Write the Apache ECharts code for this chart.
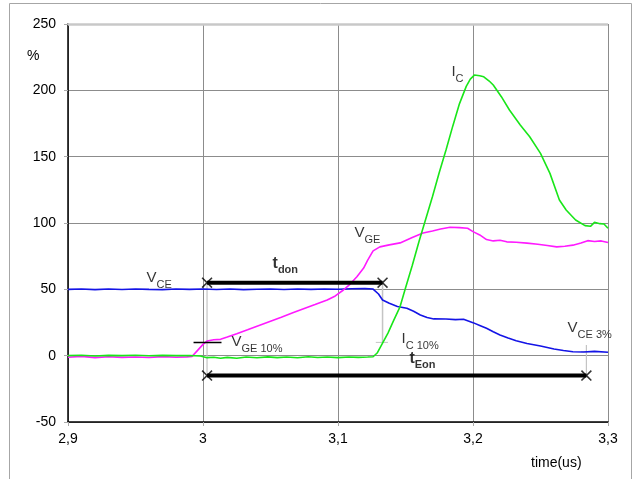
<!DOCTYPE html>
<html>
<head>
<meta charset="utf-8">
<script src="https://cdn.jsdelivr.net/npm/echarts@6/dist/echarts.min.js"></script>
<style>
  html, body { margin: 0; padding: 0; background: #fff; }
  #chart { width: 635px; height: 479px; }
</style>
</head>
<body>
<div id="chart"></div>
<script>
// Turn-on switching waveforms, all traces in percent of nominal, time in microseconds

// Collector-emitter voltage V_CE
const vceTime = [2.900, 2.910, 2.920, 2.930, 2.940, 2.950, 2.960, 2.970, 2.980, 2.990,
  3.000, 3.010, 3.020, 3.030, 3.040, 3.050, 3.060, 3.070, 3.080, 3.090, 3.100, 3.110,
  3.120, 3.126, 3.130, 3.133, 3.138, 3.144, 3.151, 3.156, 3.161, 3.166, 3.171, 3.180,
  3.187, 3.193, 3.200, 3.205, 3.210, 3.215, 3.220, 3.226, 3.232, 3.240, 3.250, 3.260,
  3.267, 3.274, 3.282, 3.290, 3.300];
const vceValue = [50.0, 50.3, 49.8, 50.2, 49.9, 50.3, 50.0, 49.8, 50.2, 50.0,
  50.3, 49.9, 50.2, 49.8, 50.1, 50.3, 49.9, 50.2, 50.0, 50.3, 50.1, 50.4,
  50.5, 50.2, 46.5, 42.0, 39.5, 37.0, 35.7, 33.5, 30.7, 28.8, 27.7, 27.6,
  27.2, 27.4, 24.9, 22.8, 20.6, 18.0, 15.6, 13.3, 11.3, 9.2, 7.3, 5.0,
  3.9, 3.0, 2.8, 3.2, 2.6];

// Gate-emitter voltage V_GE
const vgeTime = [2.900, 2.910, 2.920, 2.930, 2.940, 2.950, 2.960, 2.970, 2.980, 2.988,
  2.992, 2.996, 3.000, 3.003, 3.008, 3.013, 3.018, 3.025, 3.033, 3.042, 3.050, 3.058,
  3.067, 3.075, 3.083, 3.092, 3.098, 3.104, 3.109, 3.114, 3.119, 3.122, 3.126, 3.131,
  3.138, 3.146, 3.155, 3.163, 3.170, 3.176, 3.183, 3.190, 3.196, 3.200, 3.205, 3.210,
  3.215, 3.220, 3.225, 3.232, 3.240, 3.248, 3.255, 3.262, 3.268, 3.274, 3.280, 3.285,
  3.290, 3.295, 3.300];
const vgeValue = [-1.2, -0.5, -1.5, -0.8, -1.3, -1.0, -1.4, -0.7, -1.2, -0.9,
  -0.5, 4.0, 8.5, 11.0, 12.0, 12.3, 14.0, 16.5, 19.5, 23.0, 26.0, 29.0,
  32.5, 35.5, 38.5, 42.0, 45.0, 49.5, 54.0, 59.5, 66.0, 72.0, 79.0, 82.0,
  83.5, 85.0, 89.0, 92.5, 94.0, 95.5, 96.8, 96.5, 96.0, 93.5, 91.0, 87.5,
  86.5, 87.0, 85.8, 85.5, 84.8, 84.0, 83.0, 82.0, 82.5, 83.3, 85.0, 86.7,
  86.0, 86.5, 85.3];

// Collector current I_C
const icTime = [2.900, 2.910, 2.920, 2.930, 2.940, 2.950, 2.960, 2.970, 2.980, 2.990,
  2.998, 3.003, 3.008, 3.013, 3.018, 3.025, 3.032, 3.040, 3.048, 3.055, 3.062, 3.070,
  3.078, 3.085, 3.092, 3.100, 3.108, 3.115, 3.122, 3.126, 3.129, 3.133, 3.137, 3.141,
  3.146, 3.150, 3.155, 3.160, 3.165, 3.170, 3.175, 3.180, 3.185, 3.190, 3.195, 3.198,
  3.201, 3.205, 3.208, 3.212, 3.215, 3.221, 3.227, 3.235, 3.242, 3.250, 3.257, 3.264,
  3.269, 3.276, 3.283, 3.287, 3.290, 3.294, 3.297, 3.300];
const icValue = [0.0, 0.3, -0.2, 0.2, 0.0, 0.3, -0.1, 0.2, 0.0, 0.1,
  -0.3, -1.5, -1.2, -2.0, -1.3, -2.0, -1.0, -1.6, -0.9, -1.5, -1.0, -1.6,
  -0.8, -1.4, -1.0, -1.5, -1.0, -1.3, -1.0, -0.8, 2.0, 9.5, 17.0, 26.0,
  37.0, 51.0, 68.0, 86.0, 103.0, 120.0, 138.0, 155.0, 173.0, 190.0, 203.0, 208.5,
  211.5, 211.0, 210.2, 207.0, 204.0, 195.2, 185.2, 173.9, 165.0, 152.5, 137.4, 117.3,
  109.8, 102.3, 98.0, 97.5, 100.5, 99.5, 99.2, 96.0];

// Time intervals: turn-on delay t_don and turn-on energy window t_Eon
const tdonSpan = [3.003, 3.133];
const tdonLevel = 55;
const tEonSpan = [3.003, 3.284];
const tEonLevel = -15;

// Reference levels picked off the traces
const vge10Span = [2.993, 3.0137];
const vge10Level = 10;
const ic10Level = 10;
const vce3Level = 3;

// Trace names and annotation texts (main part, subscript, anchor time, anchor value, bold)
const noteMain = ['V', 'V', 'I', 'V', 'I', 'V', 't', 't'];
const noteSub = ['CE', 'GE', 'C', 'GE 10%', 'C 10%', 'CE 3%', 'don', 'Eon'];
const noteTime = [2.9585, 3.1126, 3.1844, 3.0215, 3.1474, 3.2704, 3.0519, 3.1533];
const noteValue = [56.4, 90.3, 211.5, 8.0, 10.3, 18.7, 67.3, -4.3];
const noteBold = [false, false, false, false, false, false, true, true];

// Axes
const xMin = 2.9, xMax = 3.3, xStep = 0.1;
const yMin = -50, yMax = 250, yStep = 50;

const FONT = '"Liberation Sans", Arial, sans-serif';
const chart = echarts.init(document.getElementById('chart'), null, { renderer: 'canvas' });

const zip = (a, b) => a.map((t, i) => [t, b[i]]);

function trace(name, color, t, v) {
  return {
    name, type: 'line', data: zip(t, v), showSymbol: false, symbol: 'none',
    lineStyle: { color, width: 1.6 }, silent: true, animation: false, z: 3
  };
}

function segment(points, color, width, z) {
  return {
    type: 'line', data: points, showSymbol: false, symbol: 'none',
    lineStyle: { color, width }, silent: true, animation: false, z
  };
}

const crossPath = 'path://M0,1L1,0L5,4L9,0L10,1L6,5L10,9L9,10L5,6L1,10L0,9L4,5Z';

const notes = noteMain.map((m, i) => ({
  value: [noteTime[i], noteValue[i]],
  label: {
    formatter: noteBold[i] ? '{bb|' + m + '}{bs|' + noteSub[i] + '}' : '{b|' + m + '}{s|' + noteSub[i] + '}'
  }
}));

const option = {
  animation: false,
  backgroundColor: '#ffffff',
  grid: { left: 68, right: 27, top: 24, bottom: 57, containLabel: false },
  title: [
    { text: '%', left: 22, top: 44, textStyle: { fontFamily: FONT, fontSize: 14, fontWeight: 'normal', color: '#000' } },
    { text: 'time(us)', left: 526, top: 451, textStyle: { fontFamily: FONT, fontSize: 14, fontWeight: 'normal', color: '#000' } }
  ],
  graphic: [
    { type: 'rect', shape: { x: 9.5, y: 3.5, width: 622, height: 520 },
      style: { fill: 'none', stroke: '#a6a6a6', lineWidth: 1 }, silent: true, z: -10 }
  ],
  xAxis: {
    type: 'value', min: xMin, max: xMax, interval: xStep,
    axisLine: { onZero: false, lineStyle: { color: '#000', width: 1.5 } },
    axisTick: { show: true, length: 4, lineStyle: { color: '#aaa' } },
    axisLabel: {
      margin: 10, color: '#000', fontFamily: FONT, fontSize: 14,
      formatter: v => String(Math.round(v * 10) / 10).replace('.', ',')
    },
    splitLine: { show: true, lineStyle: { color: '#8c8c8c', width: 1 } }
  },
  yAxis: {
    type: 'value', min: yMin, max: yMax, interval: yStep,
    axisLine: { show: true, lineStyle: { color: '#000', width: 1.5 } },
    axisTick: { show: true, length: 4, lineStyle: { color: '#aaa' } },
    axisLabel: { margin: 12, color: '#000', fontFamily: FONT, fontSize: 14 },
    splitLine: { show: true, lineStyle: { color: '#8c8c8c', width: 1 } }
  },
  series: [
    // frame line along the top of the plot
    {
      type: 'line', data: [], silent: true,
      markLine: {
        silent: true, symbol: 'none', label: { show: false },
        lineStyle: { color: '#c8c8c8', width: 2.5, type: 'solid' },
        data: [{ yAxis: yMax }]
      }
    },
    trace('VCE', '#1414e6', vceTime, vceValue),
    trace('VGE', '#ff1aff', vgeTime, vgeValue),
    trace('IC', '#19e619', icTime, icValue),

    // thin guide lines for the interval ends
    segment([[tdonSpan[0], tdonLevel], [tdonSpan[0], tEonLevel]], '#c4c4c4', 1.2, 2),
    segment([[tdonSpan[1], tdonLevel], [tdonSpan[1], ic10Level]], '#c4c4c4', 1.5, 2),
    segment([[tdonSpan[1] - 0.005, ic10Level], [tdonSpan[1] + 0.004, ic10Level]], '#c4c4c4', 1, 2),
    segment([[tEonSpan[1], tEonLevel], [tEonSpan[1], vce3Level + 5]], '#c4c4c4', 1.2, 2),
    segment([[tEonSpan[1] - 0.004, vce3Level], [tEonSpan[1] + 0.004, vce3Level]], '#c4c4c4', 1, 2),

    // V_GE 10% marker
    segment([[vge10Span[0], vge10Level], [vge10Span[1], vge10Level]], '#000', 1.5, 4),

    // interval bars
    segment([[tdonSpan[0], tdonLevel], [tdonSpan[1], tdonLevel]], '#000', 4, 4),
    segment([[tEonSpan[0], tEonLevel], [tEonSpan[1], tEonLevel]], '#000', 4, 4),
    {
      type: 'scatter', symbol: crossPath, symbolSize: 11, silent: true, z: 5,
      itemStyle: { color: '#000' },
      data: [[tdonSpan[0], tdonLevel], [tdonSpan[1], tdonLevel], [tEonSpan[0], tEonLevel], [tEonSpan[1], tEonLevel]]
    },

    // texts
    {
      type: 'scatter', symbolSize: 1, silent: true, z: 6,
      itemStyle: { color: 'rgba(0,0,0,0)' },
      label: {
        show: true, position: [0, 0], align: 'left', verticalAlign: 'middle',
        color: '#000', fontFamily: FONT,
        rich: {
          b: { fontFamily: FONT, fontSize: 15, color: '#000', lineHeight: 20, verticalAlign: 'top' },
          s: { fontFamily: FONT, fontSize: 11, color: '#000', lineHeight: 14, verticalAlign: 'bottom' },
          bb: { fontFamily: FONT, fontSize: 16, fontWeight: 'bold', color: '#000', lineHeight: 20, verticalAlign: 'top' },
          bs: { fontFamily: FONT, fontSize: 11, fontWeight: 'bold', color: '#000', lineHeight: 14, verticalAlign: 'bottom' }
        }
      },
      data: notes
    }
  ]
};

chart.setOption(option);
</script>
</body>
</html>
